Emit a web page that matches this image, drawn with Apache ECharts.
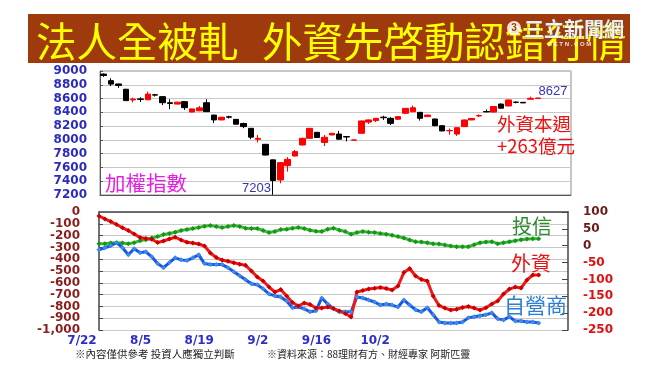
<!DOCTYPE html>
<html><head><meta charset="utf-8">
<script src="https://cdn.jsdelivr.net/npm/echarts@6/dist/echarts.min.js"></script>
<style>html,body{margin:0;padding:0;background:#fff}#c{width:650px;height:366px}</style>
</head><body><div id="c"></div>
<script>
// ---- data ----
// TAIEX daily candles: [open, close, low, high]
const candles = [
  [8955,8935,8915,8965],[8860,8810,8782,8894],[8812,8790,8755,8815],[8735,8570,8565,8740],
  [8580,8592,8545,8615],[8595,8588,8550,8620],[8582,8665,8578,8700],[8655,8650,8630,8668],
  [8628,8540,8506,8632],[8540,8530,8445,8590],[8520,8548,8515,8552],[8555,8468,8435,8560],
  [8405,8450,8400,8455],[8422,8465,8415,8492],[8540,8410,8405,8590],[8360,8290,8245,8365],
  [8290,8328,8285,8335],[8335,8330,8310,8350],[8298,8228,8225,8302],[8238,8193,8170,8250],
  [8168,8040,8010,8172],[8008,8022,7962,8070],[7936,7780,7775,7940],[7710,7410,7203,7715],
  [7418,7670,7370,7675],[7626,7718,7540,7750],[7766,7830,7760,7853],[7926,8023,7920,8030],
  [8023,8168,8015,8172],[8110,8035,8030,8115],[7962,8038,7910,8070],[8072,8096,8065,8100],
  [8085,8010,8005,8130],[8048,8042,7978,8050],[7995,8000,7990,8005],[8096,8275,8090,8280],
  [8258,8290,8232,8295],[8280,8313,8260,8318],[8330,8322,8290,8350],[8313,8240,8215,8330],
  [8300,8338,8290,8345],[8386,8458,8380,8462],[8410,8467,8400,8497],[8400,8313,8280,8405],
  [8338,8360,8335,8365],[8303,8206,8200,8308],[8206,8130,8125,8210],[8132,8136,8075,8165],
  [8085,8177,8058,8182],[8192,8289,8188,8295],[8290,8312,8285,8318],[8348,8353,8330,8370],
  [8412,8406,8402,8440],[8404,8485,8400,8490],[8520,8460,8455,8530],[8492,8580,8488,8585],
  [8548,8544,8530,8560],[8545,8537,8535,8548],[8590,8604,8588,8627],[8600,8608,8595,8612]
];
const candleSlots = 64;

// cumulative net buy/sell (億元)
const flowDateLabels = ['7/22','8/5','8/19','9/2','9/16','10/2'];
const flowSlots = 81;
const foreign = [-34,-59,-81,-106,-133,-157,-186,-216,-225,-231,-258,-246,-229,-214,-237,-257,-263,-271,-288,-347,
  -386,-407,-418,-430,-442,-452,-500,-551,-585,-636,-678,-657,-712,-767,-797,-771,-784,-814,-814,-805,
  -818,-839,-860,-890,-678,-665,-653,-647,-640,-648,-661,-627,-513,-479,-542,-572,-585,-712,-792,-814,
  -831,-824,-809,-801,-814,-831,-811,-780,-754,-695,-653,-636,-644,-576,-534,-534];
const trust = [6,6,8,9,8,6,9,15,18,23,27,33,36,40,45,48,51,54,58,60,
  57,54,57,60,57,52,51,51,45,39,42,48,49,52,54,51,46,43,42,49,
  52,46,42,34,39,42,40,39,36,34,31,27,23,17,12,11,9,6,5,2,
  -1,-3,-3,-3,3,9,11,12,6,9,12,15,18,20,21,21];
const dealer = [-12,-6,0,9,-6,-27,-9,-21,-18,-33,-53,-65,-50,-36,-42,-44,-36,-27,-53,-56,
  -56,-56,-65,-77,-89,-101,-113,-116,-128,-143,-149,-152,-164,-184,-182,-187,-196,-193,-155,-173,
  -187,-196,-196,-196,-152,-155,-161,-167,-176,-173,-176,-182,-161,-176,-190,-196,-184,-205,-226,-229,
  -229,-229,-226,-214,-211,-208,-205,-199,-217,-220,-211,-223,-223,-226,-226,-229];

const title1 = '法人全被軋';
const title2 = '外資先啓動認錯行情';
const note1 = '※內容僅供參考 投資人應獨立判斷';
const note2 = '※資料來源：88理財有方、財經專家 阿斯匹靈';

// ---- chart ----
const topCats = Array.from({length: candleSlots}, (_, i) => String(i));
const flowCats = Array.from({length: flowSlots}, (_, i) => (i % 10 === 0 && flowDateLabels[i / 10]) ? flowDateLabels[i / 10] : '');
const CJK = '"Noto Sans CJK TC","Noto Sans CJK SC",sans-serif';
const NUM = '"DejaVu Sans",Verdana,sans-serif';

// latest high (from the last ten sessions) and the lowest low, for annotations
let recentIdx = candles.length - 10;
for (let i = candles.length - 10; i < candles.length; i++) if (candles[i][3] > candles[recentIdx][3]) recentIdx = i;
let lowIdx = 0;
candles.forEach((c, i) => { if (c[2] < candles[lowIdx][2]) lowIdx = i; });

const leftFlowLabel = {color: '#8b1c1c', fontFamily: NUM, fontWeight: 'bold', fontSize: 12, margin: 19};

const chart = echarts.init(document.getElementById('c'), null, {renderer: 'canvas'});
chart.setOption({
  animation: false,
  backgroundColor: '#fff',
  grid: [
    {left: 100, top: 71, width: 471, height: 124, show: true, borderColor: '#8c8c8c', borderWidth: 1, backgroundColor: '#fff'},
    {left: 99, top: 212, width: 469, height: 118}
  ],
  xAxis: [
    {type: 'category', gridIndex: 0, data: topCats, boundaryGap: true,
     axisLine: {lineStyle: {color: '#555'}}, axisTick: {show: false}, axisLabel: {show: false}, splitLine: {show: false}},
    {type: 'category', gridIndex: 1, data: flowCats, boundaryGap: false,
     axisLine: {lineStyle: {color: '#444', width: 1.5}}, axisTick: {show: false},
     axisLabel: {interval: 0, color: '#2d2dc8', fontFamily: NUM, fontWeight: 'bold', fontSize: 12, margin: 5, padding: [0, 34, 0, 0]},
     splitLine: {show: false}}
  ],
  yAxis: [
    {type: 'value', gridIndex: 0, min: 7200, max: 9000, interval: 200,
     axisLine: {show: true, lineStyle: {color: '#555'}}, axisTick: {show: true, inside: true, length: 3, lineStyle: {color: '#555'}},
     axisLabel: {color: '#2b2bbf', fontFamily: NUM, fontWeight: 'bold', fontSize: 12, margin: 13,
                 showMinLabel: true, showMaxLabel: true, formatter: v => String(v)},
     splitLine: {lineStyle: {color: '#c8c8c8'}}},
    {type: 'value', gridIndex: 1, min: -1000, max: 0, interval: 100,
     axisLine: {show: true, lineStyle: {color: '#444', width: 1.5}}, axisTick: {show: true, inside: true, length: 4, lineStyle: {color: '#444'}},
     axisLabel: Object.assign({}, leftFlowLabel, {showMinLabel: true, showMaxLabel: false,
                 formatter: v => Number(v).toLocaleString('en-US')}),
     splitLine: {lineStyle: {color: '#c8c8c8'}}},
    {type: 'value', gridIndex: 1, position: 'right', min: -250, max: 100, interval: 50,
     axisLine: {show: true, lineStyle: {color: '#444', width: 1.5}}, axisTick: {show: true, inside: true, length: 6, lineStyle: {color: '#444'}},
     axisLabel: {fontFamily: NUM, fontWeight: 'bold', fontSize: 12, margin: 15, showMinLabel: true, showMaxLabel: true,
                 color: v => (Number(v) < 0 ? '#e01010' : '#6a1a1a')},
     splitLine: {show: false}},
    // companion axis carrying only the top "0" label of the left flow scale
    {type: 'value', gridIndex: 1, position: 'left', min: -1000, max: 0, interval: 1000,
     axisLine: {show: false}, axisTick: {show: false}, splitLine: {show: false},
     axisLabel: Object.assign({}, leftFlowLabel, {showMinLabel: true, showMaxLabel: true,
                 formatter: v => (Number(v) === 0 ? '0' : '')})}
  ],
  series: [
    {type: 'candlestick', xAxisIndex: 0, yAxisIndex: 0, data: candles, barWidth: 6,
     itemStyle: {color: '#ff0000', color0: '#000000', borderColor: '#ff0000', borderColor0: '#000000', borderWidth: 1},
     markPoint: {
       symbol: 'circle', symbolSize: 0,
       data: [
         {coord: [String(recentIdx), candles[recentIdx][3]], value: candles[recentIdx][3], label: {position: 'right', distance: 8, offset: [0, -5]}},
         {coord: [String(lowIdx), candles[lowIdx][2]], value: candles[lowIdx][2], label: {position: 'left', distance: 2, offset: [0, -6]}}
       ],
       label: {show: true, color: '#3333b3', fontFamily: '"Liberation Sans",Arial,sans-serif', fontSize: 13,
               formatter: p => String(p.value)}
     }},
    {type: 'line', name: '投信', xAxisIndex: 1, yAxisIndex: 2, data: trust, symbol: 'diamond', symbolSize: 5,
     lineStyle: {color: '#2fc42f', width: 3}, itemStyle: {color: '#1f8f1f'}},
    {type: 'line', name: '自營商', xAxisIndex: 1, yAxisIndex: 2, data: dealer, symbol: 'diamond', symbolSize: 5,
     lineStyle: {color: '#1a55e6', width: 3}, itemStyle: {color: '#3a8ae8'}},
    {type: 'line', name: '外資', xAxisIndex: 1, yAxisIndex: 1, data: foreign, symbol: 'diamond', symbolSize: 5,
     lineStyle: {color: '#f01818', width: 3}, itemStyle: {color: '#c80000'}}
  ],
  graphic: [
    {type: 'rect', shape: {x: 28, y: 14, width: 602, height: 49}, style: {fill: '#9f3a0c'}, z: 10},
    {type: 'text', x: 36, y: 42, z: 11, style: {text: title1, fill: '#ffff00', font: '40.5px ' + CJK, verticalAlign: 'middle'}},
    {type: 'text', x: 262, y: 42, z: 11, style: {text: title2, fill: '#ffff00', font: '40.5px ' + CJK, verticalAlign: 'middle'}},
    {type: 'circle', shape: {cx: 514, cy: 28, r: 7}, style: {fill: 'rgba(255,255,255,0.85)'}, z: 12},
    {type: 'text', x: 514, y: 28, z: 13, style: {text: '3', fill: '#9f3a0c', font: 'bold 10px sans-serif', align: 'center', verticalAlign: 'middle'}},
    {type: 'text', x: 524, y: 29, z: 12, style: {text: '三立新聞網', fill: 'rgba(255,255,255,0.9)', font: 'bold 20px ' + CJK, verticalAlign: 'middle', stroke: 'rgba(90,90,90,0.6)', lineWidth: 1}},
    {type: 'text', x: 548, y: 44, z: 12, style: {text: 'S E T N . C O M', fill: 'rgba(255,255,255,0.85)', font: 'bold 6px sans-serif', verticalAlign: 'middle'}},
    {type: 'text', x: 105, y: 183, z: 12, style: {text: '加權指數', fill: '#e61ee6', font: '20.5px ' + CJK, verticalAlign: 'middle'}},
    {type: 'text', x: 497, y: 124, z: 12, style: {text: '外資本週', fill: '#ee1111', font: '18.5px ' + CJK, verticalAlign: 'middle'}},
    {type: 'text', x: 497, y: 146, z: 12, style: {text: '+263億元', fill: '#ee1111', font: '18.5px ' + CJK, verticalAlign: 'middle'}},
    {type: 'text', x: 512, y: 226, z: 12, style: {text: '投信', fill: '#2e8b2e', font: '20px ' + CJK, verticalAlign: 'middle'}},
    {type: 'text', x: 511, y: 263, z: 12, style: {text: '外資', fill: '#ee1111', font: '20px ' + CJK, verticalAlign: 'middle'}},
    {type: 'text', x: 504, y: 305, z: 12, style: {text: '自營商', fill: '#2a7fd4', font: '21px ' + CJK, verticalAlign: 'middle'}},
    {type: 'text', x: 75, y: 354, z: 12, style: {text: note1, fill: '#222', font: '10.5px ' + CJK, verticalAlign: 'middle'}},
    {type: 'text', x: 267, y: 354, z: 12, style: {text: note2, fill: '#222', font: '10px ' + CJK, verticalAlign: 'middle'}}
  ]
});
</script>
</body></html>
